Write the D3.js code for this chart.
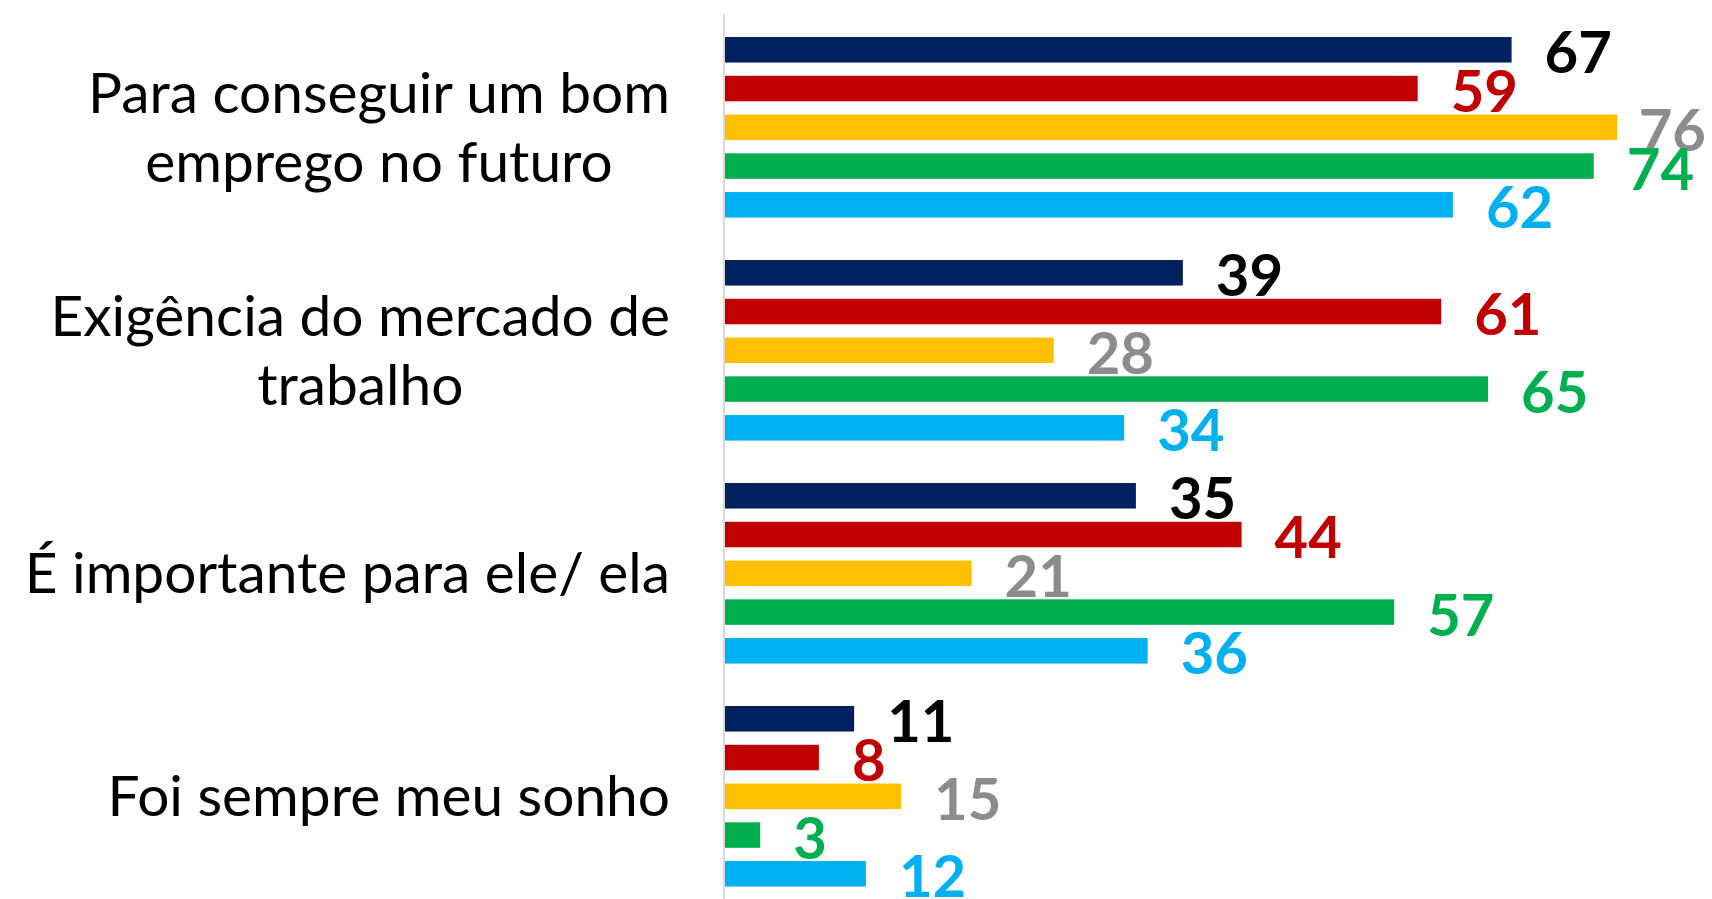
<!DOCTYPE html>
<html>
<head>
<meta charset="utf-8">
<script src="https://cdn.jsdelivr.net/npm/d3@7"></script>
<style>
  html, body { margin: 0; padding: 0; background: #ffffff; }
  svg { display: block; }
</style>
</head>
<body>
<svg id="chart" width="1712" height="899"></svg>
<script>
// ---- data ----
const categories = ["Para conseguir um bom emprego no futuro", "Exigência do mercado de trabalho", "É importante para ele/ ela", "Foi sempre meu sonho"];
const categoryLines = [["Para conseguir um bom", "emprego no futuro"], ["Exigência do mercado de", "trabalho"], ["É importante para ele/ ela"], ["Foi sempre meu sonho"]];
const seriesNames = ["Série 1", "Série 2", "Série 3", "Série 4", "Série 5"];
const serie1 = [67, 39, 35, 11];
const serie2 = [59, 61, 44, 8];
const serie3 = [76, 28, 21, 15];
const serie4 = [74, 65, 57, 3];
const serie5 = [62, 34, 36, 12];
const seriesValues = [serie1, serie2, serie3, serie4, serie5];
const barColors = ["#002060", "#C00000", "#FFC000", "#00B050", "#00B0F0"];
const labelColors = ["#000000", "#C00000", "#8C8C8C", "#00B050", "#00B0F0"];

// ---- layout ----
const W = 1712, H = 899;
const svg = d3.select("#chart");
const x = d3.scaleLinear().domain([0, 100]).range([725, 725 + 1174]);
const y0 = d3.scaleBand().domain(categories).range([30.4, 893.2]).paddingInner(0.131).paddingOuter(0);
const y1 = d3.scaleBand().domain(seriesNames).range([0, y0.bandwidth()]).paddingInner(0.342).paddingOuter(0.171);

const rows = [];
categories.forEach((c, ci) => {
  seriesNames.forEach((s, si) => {
    rows.push({ cat: c, ci, s, si, v: seriesValues[si][ci] });
  });
});

// axis line
svg.append("line")
  .attr("x1", x(0) - 1).attr("x2", x(0) - 1)
  .attr("y1", 14).attr("y2", H)
  .attr("stroke", "#d9d9d9").attr("stroke-width", 2);

// bars
svg.append("g").selectAll("rect").data(rows).join("rect")
  .attr("x", x(0))
  .attr("y", d => y0(d.cat) + y1(d.s))
  .attr("width", d => x(d.v) - x(0))
  .attr("height", y1.bandwidth())
  .attr("fill", d => barColors[d.si]);

// value labels
const lbl = svg.append("g").selectAll("text").data(rows).join("text")
  .attr("y", d => y0(d.cat) + y1(d.s) + y1.bandwidth() / 2 + 1)
  .attr("dominant-baseline", "central")
  .attr("font-family", "Lato, 'Open Sans', sans-serif")
  .attr("font-weight", 700)
  .attr("font-size", 58)
  .attr("fill", d => labelColors[d.si])
  .text(d => d.v);
lbl.each(function(d) {
  const w = this.getComputedTextLength();
  let px = x(d.v) + 33;
  if (px + w > W - 6) px = W - 6 - w;
  d3.select(this).attr("x", px);
});

// category labels (block right-aligned, lines centered)
const rightEdge = 670;
const lineH = 69;
categoryLines.forEach((lines, ci) => {
  const g = svg.append("g");
  const center = y0(categories[ci]) + y0.bandwidth() / 2;
  const texts = lines.map((t, li) => g.append("text")
    .attr("font-family", "Lato, 'Open Sans', sans-serif")
    .attr("font-size", 56.8)
    .attr("fill", "#000000")
    .attr("text-anchor", "middle")
    .attr("y", center + 20 + (li - (lines.length - 1) / 2) * lineH)
    .text(t));
  const maxW = d3.max(texts, t => t.node().getComputedTextLength());
  texts.forEach(t => t.attr("x", rightEdge - maxW / 2));
});
</script>
</body>
</html>
